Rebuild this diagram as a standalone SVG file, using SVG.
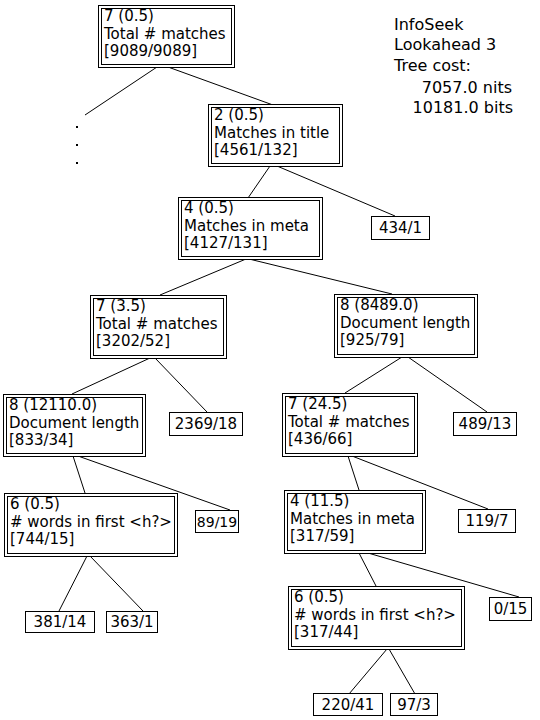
<svg xmlns="http://www.w3.org/2000/svg" width="540" height="720" viewBox="0 0 540 720">
<style>
rect.b{fill:#fff;stroke:#000;stroke-width:1}
text{font-family:"DejaVu Sans","Liberation Sans",sans-serif;font-size:15px;fill:#000}
text.c{text-anchor:middle}
text.r{text-anchor:end}
#info text{font-size:16px}
#l_89 text{font-size:14px}
line{stroke:#000;stroke-width:1}
</style>
<rect width="540" height="720" fill="#fff"/>
<g id="connectors">
<line x1="157" y1="67" x2="85" y2="115"/>
<line x1="168" y1="67" x2="273" y2="105"/>
<line x1="270" y1="166" x2="248" y2="198"/>
<line x1="277" y1="166" x2="395" y2="216"/>
<line x1="246" y1="259" x2="160" y2="295"/>
<line x1="249" y1="259" x2="392" y2="294"/>
<line x1="150" y1="358" x2="72" y2="394"/>
<line x1="155" y1="358" x2="207" y2="412"/>
<line x1="402" y1="357" x2="345" y2="393"/>
<line x1="408" y1="357" x2="487" y2="412"/>
<line x1="73" y1="456" x2="85" y2="493"/>
<line x1="78" y1="456" x2="230" y2="510"/>
<line x1="348" y1="456" x2="359" y2="490"/>
<line x1="352" y1="456" x2="488" y2="509"/>
<line x1="87" y1="556" x2="59" y2="611"/>
<line x1="90" y1="556" x2="143" y2="611"/>
<line x1="359" y1="553" x2="376" y2="586"/>
<line x1="368" y1="553" x2="519" y2="597"/>
<line x1="387" y1="649" x2="349" y2="694"/>
<line x1="389" y1="649" x2="415" y2="694"/>
</g>
<g id="dots">
<rect x="76" y="126" width="2" height="2" fill="#000"/>
<rect x="76" y="144" width="2" height="2" fill="#000"/>
<rect x="76" y="162" width="2" height="2" fill="#000"/>
</g>
<g id="info">
<text x="394" y="30">InfoSeek</text>
<text x="394" y="50">Lookahead 3</text>
<text x="394" y="71">Tree cost:</text>
<text class="r" x="512" y="93">7057.0 nits</text>
<text class="r" x="513" y="113">10181.0 bits</text>
</g>
<g id="n_root">
<rect class="b" x="98.5" y="5.5" width="136" height="62"/>
<rect class="b" x="101.5" y="8.5" width="130" height="56"/>
<text x="104" y="21">7 (0.5)</text>
<text x="104" y="39">Total # matches</text>
<text x="104" y="56">[9089/9089]</text>
</g>
<g id="n_title">
<rect class="b" x="208.5" y="104.5" width="134" height="62"/>
<rect class="b" x="211.5" y="107.5" width="128" height="56"/>
<text x="214" y="120">2 (0.5)</text>
<text x="214" y="138">Matches in title</text>
<text x="214" y="155">[4561/132]</text>
</g>
<g id="l_434">
<rect class="b" x="371.5" y="216.5" width="58" height="23"/>
<text class="c" x="400.5" y="233">434/1</text>
</g>
<g id="n_meta">
<rect class="b" x="178.5" y="197.5" width="144" height="62"/>
<rect class="b" x="181.5" y="200.5" width="138" height="56"/>
<text x="184" y="213">4 (0.5)</text>
<text x="184" y="231">Matches in meta</text>
<text x="184" y="248">[4127/131]</text>
</g>
<g id="n_total2">
<rect class="b" x="90.5" y="295.5" width="136" height="63"/>
<rect class="b" x="93.5" y="298.5" width="130" height="57"/>
<text x="96" y="311">7 (3.5)</text>
<text x="96" y="329">Total # matches</text>
<text x="96" y="346">[3202/52]</text>
</g>
<g id="n_doclen1">
<rect class="b" x="334.5" y="294.5" width="143" height="63"/>
<rect class="b" x="337.5" y="297.5" width="137" height="57"/>
<text x="340" y="310">8 (8489.0)</text>
<text x="340" y="328">Document length</text>
<text x="340" y="345">[925/79]</text>
</g>
<g id="n_doclen2">
<rect class="b" x="3.5" y="394.5" width="142" height="62"/>
<rect class="b" x="6.5" y="397.5" width="136" height="56"/>
<text x="9" y="410">8 (12110.0)</text>
<text x="9" y="428">Document length</text>
<text x="9" y="445">[833/34]</text>
</g>
<g id="l_2369">
<rect class="b" x="169.5" y="412.5" width="73" height="23"/>
<text class="c" x="206" y="429">2369/18</text>
</g>
<g id="n_total3">
<rect class="b" x="282.5" y="393.5" width="135" height="63"/>
<rect class="b" x="285.5" y="396.5" width="129" height="57"/>
<text x="288" y="409">7 (24.5)</text>
<text x="288" y="427">Total # matches</text>
<text x="288" y="444">[436/66]</text>
</g>
<g id="l_489">
<rect class="b" x="453.5" y="412.5" width="63" height="23"/>
<text class="c" x="485" y="429">489/13</text>
</g>
<g id="n_words1">
<rect class="b" x="4.5" y="493.5" width="173" height="63"/>
<rect class="b" x="7.5" y="496.5" width="167" height="57"/>
<text x="10" y="509">6 (0.5)</text>
<text x="10" y="527"># words in first &lt;h?&gt;</text>
<text x="10" y="544">[744/15]</text>
</g>
<g id="l_89">
<rect class="b" x="195.5" y="510.5" width="43" height="22"/>
<text class="c" x="217" y="527">89/19</text>
</g>
<g id="n_meta2">
<rect class="b" x="284.5" y="490.5" width="141" height="63"/>
<rect class="b" x="287.5" y="493.5" width="135" height="57"/>
<text x="290" y="506">4 (11.5)</text>
<text x="290" y="524">Matches in meta</text>
<text x="290" y="541">[317/59]</text>
</g>
<g id="l_119">
<rect class="b" x="458.5" y="509.5" width="57" height="23"/>
<text class="c" x="487" y="526">119/7</text>
</g>
<g id="l_381">
<rect class="b" x="25.5" y="611.5" width="69" height="21"/>
<text class="c" x="60" y="627">381/14</text>
</g>
<g id="l_363">
<rect class="b" x="106.5" y="611.5" width="51" height="21"/>
<text class="c" x="132" y="627">363/1</text>
</g>
<g id="n_words2">
<rect class="b" x="288.5" y="586.5" width="176" height="63"/>
<rect class="b" x="291.5" y="589.5" width="170" height="57"/>
<text x="294" y="602">6 (0.5)</text>
<text x="294" y="620"># words in first &lt;h?&gt;</text>
<text x="294" y="637">[317/44]</text>
</g>
<g id="l_015">
<rect class="b" x="489.5" y="597.5" width="42" height="23"/>
<text class="c" x="510.5" y="614">0/15</text>
</g>
<g id="l_220">
<rect class="b" x="313.5" y="693.5" width="69" height="22"/>
<text class="c" x="348" y="710">220/41</text>
</g>
<g id="l_97">
<rect class="b" x="390.5" y="693.5" width="47" height="22"/>
<text class="c" x="414" y="710">97/3</text>
</g>
</svg>
